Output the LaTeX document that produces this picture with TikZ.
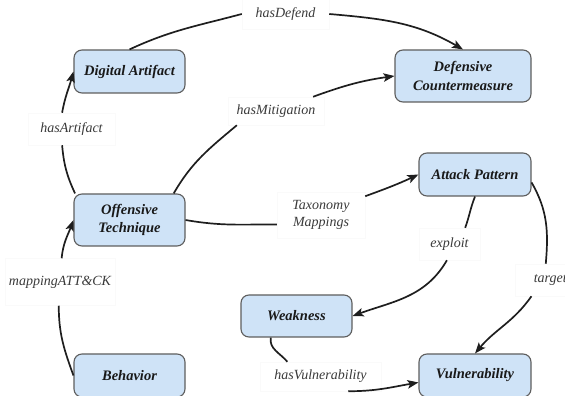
\documentclass[tikz,border=0pt]{standalone}
\usepackage{fontspec}
\setmainfont{Liberation Serif}
\usetikzlibrary{arrows.meta}
\definecolor{boxfill}{HTML}{CFE3F7}
\definecolor{boxline}{HTML}{5E5E5E}
\definecolor{edgecol}{HTML}{1E1E1E}
\definecolor{lbltext}{HTML}{3A3A3A}
\begin{document}
\begin{tikzpicture}[x=1pt,y=1pt,
  concept/.style={draw=boxline, line width=1.1pt, fill=boxfill, rounded corners=8pt,
    align=center, inner sep=0pt, text=black!90,
    font=\fontsize{14.5}{18.5}\selectfont\bfseries\itshape},
  rel/.style={fill=white, draw=black!2, line width=0.5pt, align=center, inner sep=0pt,
    text=lbltext, font=\fontsize{14}{17}\selectfont\itshape},
  link/.style={draw=edgecol, line width=1.7pt},
  arr/.style={link, -{Stealth[length=11pt,width=8.5pt,inset=2.5pt]}}]
\useasboundingbox (0,0) rectangle (565,396);

% concept boxes
\node[concept, minimum width=111pt, minimum height=43pt] (da) at (129.5,324.5) {Digital Artifact};
\node[concept, minimum width=136pt, minimum height=52pt] (dc) at (463,320) {Defensive\\Countermeasure};
\node[concept, minimum width=112pt, minimum height=43pt] (ap) at (475,221.5) {Attack Pattern};
\node[concept, minimum width=111pt, minimum height=52pt] (ot) at (129.5,176) {Offensive\\Technique};
\node[concept, minimum width=111pt, minimum height=43pt] (be) at (129.5,20.5) {Behavior};
\node[concept, minimum width=111pt, minimum height=42pt] (wk) at (296.5,80) {Weakness};
\node[concept, minimum width=112pt, minimum height=43pt] (vu) at (475,20.5) {Vulnerability};

% relation labels
\node[rel, minimum width=87pt, minimum height=30pt] (lDef) at (285.5,382) {hasDefend};
\node[rel, minimum width=87pt, minimum height=32pt] (lArt) at (71.5,267) {hasArtifact};
\node[rel, minimum width=96pt, minimum height=28pt] (lMit) at (276,285) {hasMitigation};
\node[rel, minimum width=88pt, minimum height=46pt, font=\fontsize{14}{16.5}\selectfont\itshape] (lTax) at (321,181) {Taxonomy\\Mappings};
\node[rel, minimum width=61pt, minimum height=32pt] (lExp) at (449.5,152) {exploit};
\node[rel, minimum width=76pt, minimum height=32pt] (lTar) at (553,116) {targets};
\node[rel, minimum width=110pt, minimum height=47pt] (lMap) at (60,114) {mappingATT\&CK};
\node[rel, minimum width=121pt, minimum height=29pt] (lVul) at (320.5,19.5) {hasVulnerability};

% connectors
\draw[link] (da.north) to[out=25, in=195] (lDef.west);
\draw[arr]  (lDef.east) to[out=-5, in=150] (dc.north);

\draw[link] (ot.154) to[out=115, in=-85] (lArt.-120);
\draw[arr]  (lArt.120) to[out=80, in=-105] (da.west);

\draw[link] (ot.31) to[out=60, in=220] (lMit.200);
\draw[arr]  (lMit.21) to[out=20, in=188] (dc.west);

\draw[link] (ot.east) to[out=-10, in=180] (lTax.192);
\draw[arr]  (lTax.23) to[out=20, in=205] (ap.west);

\draw[link] (ap.south) to[out=-112, in=70] (lExp.46);
\draw[arr]  (lExp.-99) to[out=-120, in=20] (wk.east);

\draw[link] (ap.-8) to[out=-60, in=85] (lTar.114);
\draw[arr]  (lTar.217) to[out=-125, in=50] (vu.north);

\draw[link] (wk.220) to[out=-100, in=130] (lVul.156);
\draw[arr]  (lVul.-28) to[out=0, in=190] (vu.187);

\draw[link] (be.west) to[out=110, in=-90] (lMap.-93);
\draw[arr]  (lMap.86) to[out=85, in=-110] (ot.west);
\end{tikzpicture}
\end{document}
